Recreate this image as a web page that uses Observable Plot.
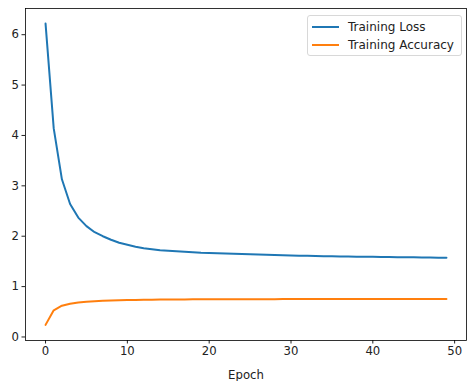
<!DOCTYPE html>
<html>
<head>
<meta charset="utf-8">
<script src="https://cdn.jsdelivr.net/npm/d3@7"></script>
<script src="https://cdn.jsdelivr.net/npm/@observablehq/plot@0.6"></script>
<style>
  html, body { margin: 0; padding: 0; background: #fff; }
  #wrap { position: relative; width: 467px; height: 381px; font-family: "DejaVu Sans", sans-serif; }
  #legend { position: absolute; left: 307px; top: 15px; width: 155px; height: 41px; box-sizing: border-box;
    border: 1px solid #d8d8d8; border-radius: 3px; background: rgba(255,255,255,0.8); font-size: 12px; color: #222; }
  .item { position: absolute; left: 4px; height: 14px; display: flex; align-items: center; }
  .sw { width: 27px; height: 0; border-top: 2px solid; margin-right: 9px; }
</style>
</head>
<body>
<div id="wrap"></div>
<script>
const epochs = d3.range(50);
const seriesNames = ["Training Loss", "Training Accuracy"];
const seriesColors = ["#1f77b4", "#ff7f0e"];
const trainingLoss = [
  6.22, 4.14, 3.13, 2.64, 2.37, 2.20, 2.08, 2.00, 1.93, 1.87,
  1.83, 1.79, 1.76, 1.74, 1.72, 1.71, 1.70, 1.69, 1.68, 1.67,
  1.665, 1.66, 1.655, 1.65, 1.645, 1.64, 1.635, 1.63, 1.625, 1.62,
  1.615, 1.612, 1.61, 1.607, 1.604, 1.60, 1.598, 1.596, 1.594, 1.592,
  1.59, 1.588, 1.586, 1.584, 1.582, 1.58, 1.578, 1.576, 1.574, 1.572
];
const trainingAccuracy = [
  0.24, 0.53, 0.62, 0.66, 0.685, 0.70, 0.71, 0.718, 0.724, 0.729,
  0.733, 0.736, 0.739, 0.741, 0.743, 0.744, 0.745, 0.746, 0.747, 0.748,
  0.748, 0.749, 0.749, 0.750, 0.750, 0.750, 0.751, 0.751, 0.751, 0.752,
  0.752, 0.752, 0.752, 0.753, 0.753, 0.753, 0.753, 0.754, 0.754, 0.754,
  0.754, 0.754, 0.755, 0.755, 0.755, 0.755, 0.755, 0.756, 0.756, 0.756
];
const xTicks = [0, 10, 20, 30, 40, 50];
const yTicks = [0, 1, 2, 3, 4, 5, 6];

const data = [
  ...epochs.map((e, i) => ({epoch: e, value: trainingLoss[i], series: seriesNames[0]})),
  ...epochs.map((e, i) => ({epoch: e, value: trainingAccuracy[i], series: seriesNames[1]}))
];

const chart = Plot.plot({
  width: 467,
  height: 381,
  marginLeft: 25,
  marginRight: 1,
  marginTop: 8,
  marginBottom: 41,
  style: {fontFamily: "DejaVu Sans, sans-serif", fontSize: "11.7px", color: "#222", background: "#fff"},
  x: {domain: [-2.45, 51.45], ticks: xTicks, tickFormat: "d", tickSize: 3.5, tickPadding: 3, label: "Epoch", labelAnchor: "center", labelArrow: "none", labelOffset: 38},
  y: {domain: [-0.07, 6.52], ticks: yTicks, tickFormat: "d", tickSize: 3.5, tickPadding: 3, label: null},
  color: {domain: seriesNames, range: seriesColors},
  marks: [
    Plot.line(data, {x: "epoch", y: "value", z: "series", stroke: "series", strokeWidth: 2}),
    Plot.frame({stroke: "#000", strokeWidth: 0.8})
  ]
});
const wrap = document.getElementById("wrap");
wrap.appendChild(chart);

const legend = document.createElement("div");
legend.id = "legend";
seriesNames.forEach((name, i) => {
  const item = document.createElement("div");
  item.className = "item";
  item.style.top = (4 + i * 17.5) + "px";
  const sw = document.createElement("span");
  sw.className = "sw";
  sw.style.borderTopColor = seriesColors[i];
  item.appendChild(sw);
  const t = document.createElement("span");
  t.textContent = name;
  item.appendChild(t);
  legend.appendChild(item);
});
wrap.appendChild(legend);
</script>
</body>
</html>
